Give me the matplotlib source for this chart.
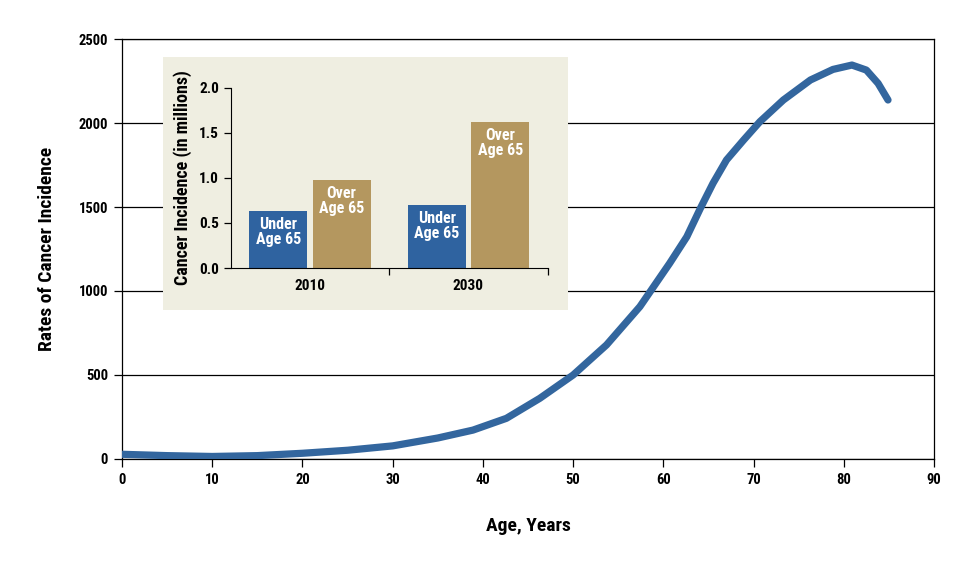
import matplotlib
matplotlib.use('Agg')
import matplotlib.pyplot as plt
from matplotlib import font_manager

# pick a narrow/condensed family if one is installed
installed = {f.name for f in font_manager.fontManager.ttflist}
condensed = [n for n in ['Roboto Condensed', 'Liberation Sans Narrow', 'DejaVu Sans Condensed',
                         'Liberation Sans'] if n in installed]
plt.rcParams['font.family'] = condensed + ['DejaVu Sans']
plt.rcParams['font.weight'] = 'bold'
plt.rcParams['font.stretch'] = 'condensed'

# main curve: cancer incidence rate by age
ages = [0, 5, 10, 15, 20, 25, 30, 35, 38.9, 42.6, 46.3, 50, 53.7, 57.4, 60.7,
        62.6, 64.1, 65.5, 67, 68.9, 70.7, 73.3, 76.3, 78.8, 80.9, 82.5, 83.8, 84.9]
rates = [28, 20, 15, 20, 34, 52, 78, 125, 172, 242, 361, 500, 679, 907, 1165,
         1323, 1492, 1641, 1780, 1899, 2008, 2137, 2256, 2319, 2345, 2315, 2236, 2137]

# inset: cancer incidence in millions
years = ['2010', '2030']
under_65 = [0.635, 0.70]
over_65 = [0.975, 1.62]

blue = '#2F63A0'
tan = '#B4975F'

fig = plt.figure(figsize=(9.8, 5.67), dpi=100)
ax = fig.add_axes([0.1245, 0.1905, 0.8286, 0.7407])
ax.plot(ages, rates, color='#33669E', linewidth=5.2, solid_capstyle='round',
        solid_joinstyle='round', zorder=3)
ax.set_xlim(0, 90)
ax.set_ylim(0, 2500)
ax.set_xticks(range(0, 91, 10))
ax.set_yticks(range(0, 2501, 500))
ax.yaxis.grid(True, color='black', linewidth=0.9)
ax.set_axisbelow(True)
ax.tick_params(direction='out', length=6, width=0.9, labelsize=10.5, pad=4)
for s in ax.spines.values():
    s.set_linewidth(0.9)
ax.set_xlabel('Age, Years', fontsize=14, fontweight='bold', labelpad=22)
ax.set_ylabel('Rates of Cancer Incidence', fontsize=14, fontweight='bold', labelpad=16)

# beige panel behind the inset
panel = fig.add_axes([0.1663, 0.4533, 0.4133, 0.4462])
panel.set_facecolor('#EFEEE1')
panel.set_xticks([])
panel.set_yticks([])
for s in panel.spines.values():
    s.set_visible(False)

ins = fig.add_axes([0.2354, 0.5273, 0.3235, 0.318])
ins.patch.set_alpha(0)
centers = [0.5, 1.5]
w = 0.367
ins.bar([c - 0.2 for c in centers], under_65, width=w, color=blue)
ins.bar([c + 0.2 for c in centers], over_65, width=w, color=tan)
for c, v in zip(centers, under_65):
    ins.annotate('Under\nAge 65', (c - 0.2, v), xytext=(0, -15), textcoords='offset points',
                 ha='center', va='center', color='white', fontsize=11.5, linespacing=1.0)
for c, v in zip(centers, over_65):
    ins.annotate('Over\nAge 65', (c + 0.2, v), xytext=(0, -15), textcoords='offset points',
                 ha='center', va='center', color='white', fontsize=11.5, linespacing=1.0)
ins.set_xlim(0, 2)
ins.set_ylim(0, 2.0)
ins.set_yticks([0, 0.5, 1.0, 1.5, 2.0])
ins.set_yticklabels(['0.0', '0.5', '1.0', '1.5', '2.0'])
ins.set_xticks([1, 2])
ins.set_xticklabels([])
ins.set_xticks(centers, minor=True)
ins.set_xticklabels(years, minor=True)
ins.tick_params(axis='x', which='minor', length=0, pad=8, labelsize=11)
ins.tick_params(axis='x', which='major', direction='out', length=5, width=0.9)
ins.tick_params(axis='y', direction='out', length=5, width=0.9, labelsize=11)
ins.spines['top'].set_visible(False)
ins.spines['right'].set_visible(False)
ins.set_ylabel('Cancer Incidence (in millions)', fontsize=13, fontweight='bold', labelpad=5)

fig.savefig('out.png', dpi=100)
